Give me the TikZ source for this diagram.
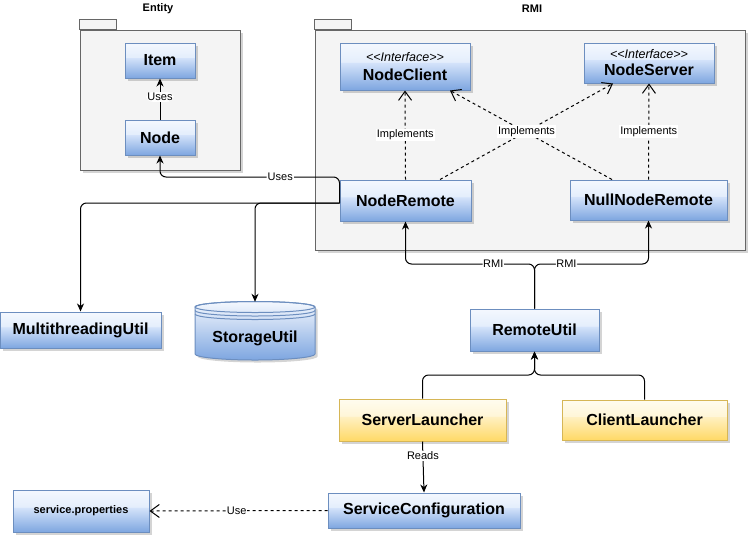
\documentclass[tikz,border=0pt]{standalone}
\usepackage{fontspec}
\setmainfont{Liberation Sans}
\usetikzlibrary{arrows.meta,shadows,calc}

% palette
\definecolor{bbot}{HTML}{7EA6E0}
\definecolor{bmid}{HTML}{D4E3FA}
\definecolor{bgl}{HTML}{E4EEFC}
\definecolor{btop}{HTML}{F4F8FE}
\definecolor{bline}{HTML}{6C8EBF}
\definecolor{ybot}{HTML}{FFD966}
\definecolor{ymid}{HTML}{FFF0C2}
\definecolor{ygl}{HTML}{FFF6D8}
\definecolor{ytop}{HTML}{FFFCEF}
\definecolor{yline}{HTML}{D6B656}
\definecolor{pkgfill}{HTML}{F4F4F4}
\definecolor{pkgline}{HTML}{666666}

% glossy vertical fills for the class boxes
\pgfdeclareverticalshading{blueglass}{100bp}{color(0bp)=(bbot); color(25bp)=(bbot); color(54bp)=(bmid); color(55bp)=(bgl); color(75bp)=(btop); color(100bp)=(btop)}
\pgfdeclareverticalshading{yellowglass}{100bp}{color(0bp)=(ybot); color(25bp)=(ybot); color(54bp)=(ymid); color(55bp)=(ygl); color(75bp)=(ytop); color(100bp)=(ytop)}

\tikzset{
  softshadow/.style={drop shadow={shadow xshift=2.5pt,shadow yshift=-2.5pt,fill=black,opacity=0.17}},
  box/.style={draw=bline, line width=1pt, inner sep=0pt, align=center,
    font=\fontsize{16}{19}\selectfont\bfseries, softshadow},
  bluebox/.style={box, shading=blueglass},
  yellowbox/.style={box, draw=yline, shading=yellowglass},
  pkg/.style={draw=pkgline, fill=pkgfill, line width=1pt, inner sep=0pt, softshadow},
  pkgtab/.style={draw=pkgline, fill=pkgfill, line width=1pt},
  pkgname/.style={font=\fontsize{11}{13}\selectfont\bfseries, inner sep=0pt},
  lbl/.style={fill=white, inner sep=1pt, font=\fontsize{11}{13}\selectfont},
  conn/.style={draw=black, line width=1pt, rounded corners=6pt,
    -{Stealth[length=8pt,width=7pt,inset=2.5pt]}},
  impl/.style={draw=black, line width=1pt, dash pattern=on 3pt off 3pt,
    -{Straight Barb[length=9pt,width=13pt,line width=1pt]}}
}
\newcommand{\stereotype}[1]{{\fontsize{12.5}{14}\selectfont\itshape\mdseries <\kern0pt<#1>\kern0pt>}}

\begin{document}
\begin{tikzpicture}[x=1pt,y=-1pt]
\fill[white] (0,0) rectangle (749,539);
\useasboundingbox (0,0) rectangle (749,539);

% packages
\node[pkg, minimum width=160pt, minimum height=140pt] (entity) at (160,100) {};
\draw[pkgtab] (entity.north west) rectangle ++(37,-10);
\node[pkgname] (entityname) at ($(entity.north)+(-2,-21)$) {Entity};

\node[pkg, minimum width=430pt, minimum height=220pt] (rmi) at (530,140) {};
\draw[pkgtab] (rmi.north west) rectangle ++(37,-10);
\node[pkgname] (rminame) at ($(rmi.north)+(2,-21)$) {RMI};

% class boxes
\node[bluebox, minimum width=70pt, minimum height=35pt] (item) at (160,60.5) {Item};
\node[bluebox, minimum width=70pt, minimum height=35pt] (node) at (160,137.5) {Node};
\node[bluebox, minimum width=130pt, minimum height=47pt] (nc) at (405,66.5)
  {\stereotype{Interface}\\[0pt]NodeClient};
\node[bluebox, minimum width=130pt, minimum height=40pt] (ns) at (649,63)
  {\stereotype{Interface}\\[-2pt]NodeServer};
\node[bluebox, minimum width=131pt, minimum height=41pt] (nr) at (405.5,200.5) {NodeRemote};
\node[bluebox, minimum width=157pt, minimum height=40pt] (nnr) at (648.5,200) {NullNodeRemote};
\node[bluebox, minimum width=161pt, minimum height=36pt] (mt) at (80.5,330) {MultithreadingUtil};
\node[bluebox, minimum width=129pt, minimum height=42pt] (ru) at (534.5,330) {RemoteUtil};
\node[yellowbox, minimum width=167pt, minimum height=42pt] (sl) at (422.5,420) {ServerLauncher};
\node[yellowbox, minimum width=165pt, minimum height=40pt] (cl) at (644.5,420) {ClientLauncher};
\node[bluebox, minimum width=192pt, minimum height=35pt] (sc) at (424,510.5) {ServiceConfiguration};
\node[bluebox, minimum width=136pt, minimum height=42pt, font=\fontsize{11}{13}\selectfont\bfseries] (sp) at (81,511) {service.properties};

% data store
\fill[black, opacity=0.17, shift={(2.5pt,-2.5pt)}]
  (195,307) arc[start angle=180, end angle=0, x radius=60pt, y radius=5.5pt]
  -- (315,354) arc[start angle=0, end angle=-180, x radius=60pt, y radius=6pt] -- cycle;
\shade[top color=btop, bottom color=bbot, draw=bline, line width=1pt]
  (195,307) arc[start angle=180, end angle=0, x radius=60pt, y radius=5.5pt]
  -- (315,354) arc[start angle=0, end angle=-180, x radius=60pt, y radius=6pt] -- cycle;
\draw[bline, line width=1pt] (255,307) ellipse[x radius=60pt, y radius=5.5pt];
\draw[bline, line width=1pt] (195,310.5) arc[start angle=180, end angle=360, x radius=60pt, y radius=5.5pt];
\draw[bline, line width=1pt] (195,314) arc[start angle=180, end angle=360, x radius=60pt, y radius=5.5pt];
\node[minimum width=120pt, minimum height=58pt, inner sep=0pt] (storage) at (255,331) {};
\node[font=\fontsize{16}{19}\selectfont\bfseries, inner sep=0pt] (storagename) at (255,338) {StorageUtil};

% coordinates of the shared horizontal runs
\coordinate (usesrow) at (0,177);
\coordinate (nrout) at ($(nr.west)+(0,2.5)$);
\coordinate (rmirow) at (0,264);
\coordinate (launchrow) at (0,375);

% uses
\draw[conn] (node.north) -- node[lbl, pos=0.55] {Uses} (item.south);
\draw[conn] (nrout) -- (nr.west |- usesrow) -- node[lbl, pos=0.33] {Uses} (node.south |- usesrow) -- (node.south);
\draw[conn] (nrout) -| (mt.north);
\draw[conn] (nrout) -| (storage.north);

% implements
\draw[impl] (nr.north) -- node[lbl] {Implements} (nc.south);
\draw[impl] (nnr.north) -- node[lbl] {Implements} (ns.south);
\draw[impl] ($(nnr.north)+(-36.5,0)$) -- ($(nc.south)+(45,0)$);
\draw[impl] ($(nr.north)+(34.5,0)$) -- node[lbl, pos=0.5] {Implements} ($(ns.south)+(-36,0)$);

% rmi
\draw[conn] (ru.north) -- (ru.north |- rmirow) -- node[lbl, pos=0.32, inner sep=0.5pt] {RMI} (nr.south |- rmirow) -- (nr.south);
\draw[conn] (ru.north) -- (ru.north |- rmirow) -- node[lbl, pos=0.28, inner sep=0.5pt] {RMI} (nnr.south |- rmirow) -- (nnr.south);

% launchers
\draw[conn] (sl.north) -- (sl.north |- launchrow) -- (ru.south |- launchrow) -- (ru.south);
\draw[conn] (cl.north) -- (cl.north |- launchrow) -- (ru.south |- launchrow) -- (ru.south);

% configuration
\draw[conn] (sl.south) -- node[lbl, pos=0.28] {Reads} (sc.north);
\draw[impl] (sc.west) -- node[lbl, pos=0.51, inner sep=0.5pt] {Use} (sp.east);
\end{tikzpicture}
\end{document}
